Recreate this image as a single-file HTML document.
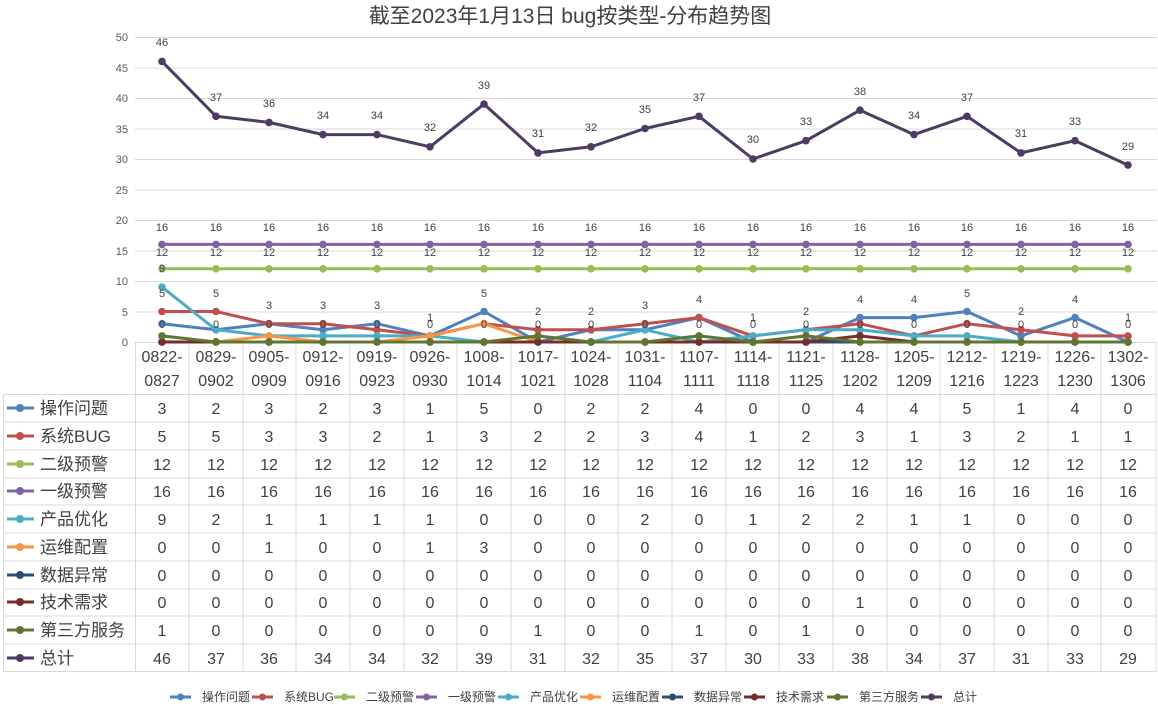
<!DOCTYPE html>
<html><head><meta charset="utf-8"><style>
body{margin:0;background:#fff}
svg{display:block;font-family:"Liberation Sans","Noto Sans CJK SC",sans-serif}
.ax{font-size:11px;fill:#595959;text-anchor:end}
.dl{font-size:11px;fill:#404040;text-anchor:middle}
.tc{font-size:16px;fill:#404040;text-anchor:middle}
.lb{font-size:17px;fill:#404040}
.lg{font-size:12px;fill:#404040}
</style></head><body>
<svg width="1158" height="710" viewBox="0 0 1158 710">
<defs>
<marker id="m1" markerUnits="userSpaceOnUse" markerWidth="10" markerHeight="10" refX="5" refY="5"><circle cx="5" cy="5" r="3.8" fill="#4f81bd"/></marker>
<marker id="m2" markerUnits="userSpaceOnUse" markerWidth="10" markerHeight="10" refX="5" refY="5"><circle cx="5" cy="5" r="3.8" fill="#c0504d"/></marker>
<marker id="m3" markerUnits="userSpaceOnUse" markerWidth="10" markerHeight="10" refX="5" refY="5"><circle cx="5" cy="5" r="3.8" fill="#9bbb59"/></marker>
<marker id="m4" markerUnits="userSpaceOnUse" markerWidth="10" markerHeight="10" refX="5" refY="5"><circle cx="5" cy="5" r="3.8" fill="#8064a2"/></marker>
<marker id="m5" markerUnits="userSpaceOnUse" markerWidth="10" markerHeight="10" refX="5" refY="5"><circle cx="5" cy="5" r="3.8" fill="#4bacc6"/></marker>
<marker id="m6" markerUnits="userSpaceOnUse" markerWidth="10" markerHeight="10" refX="5" refY="5"><circle cx="5" cy="5" r="3.8" fill="#f79646"/></marker>
<marker id="m7" markerUnits="userSpaceOnUse" markerWidth="10" markerHeight="10" refX="5" refY="5"><circle cx="5" cy="5" r="3.8" fill="#2c4d75"/></marker>
<marker id="m8" markerUnits="userSpaceOnUse" markerWidth="10" markerHeight="10" refX="5" refY="5"><circle cx="5" cy="5" r="3.8" fill="#772c2a"/></marker>
<marker id="m9" markerUnits="userSpaceOnUse" markerWidth="10" markerHeight="10" refX="5" refY="5"><circle cx="5" cy="5" r="3.8" fill="#5f7530"/></marker>
<marker id="m10" markerUnits="userSpaceOnUse" markerWidth="10" markerHeight="10" refX="5" refY="5"><circle cx="5" cy="5" r="3.8" fill="#4d3b62"/></marker>
</defs>
<text x="570" y="23" text-anchor="middle" font-size="21" fill="#404040">截至2023年1月13日 bug按类型-分布趋势图</text>
<g stroke="#d9d9d9" stroke-width="1">
<line x1="135" x2="1157" y1="37.5" y2="37.5"/><line x1="135" x2="1157" y1="68" y2="68"/><line x1="135" x2="1157" y1="98.5" y2="98.5"/><line x1="135" x2="1157" y1="129" y2="129"/><line x1="135" x2="1157" y1="159.5" y2="159.5"/><line x1="135" x2="1157" y1="190" y2="190"/><line x1="135" x2="1157" y1="220.5" y2="220.5"/><line x1="135" x2="1157" y1="251" y2="251"/><line x1="135" x2="1157" y1="281.5" y2="281.5"/><line x1="135" x2="1157" y1="312" y2="312"/><line x1="135" x2="1157" y1="342.5" y2="342.5"/>
</g>
<g class="ax"><text x="128" y="41">50</text><text x="128" y="72">45</text><text x="128" y="102">40</text><text x="128" y="133">35</text><text x="128" y="163">30</text><text x="128" y="194">25</text><text x="128" y="224">20</text><text x="128" y="255">15</text><text x="128" y="285">10</text><text x="128" y="316">5</text><text x="128" y="346">0</text></g>
<g stroke="#d9d9d9" stroke-width="1" fill="none">
<line x1="135.5" x2="135.5" y1="342" y2="672"/><line x1="189" x2="189" y1="342" y2="672"/><line x1="243" x2="243" y1="342" y2="672"/><line x1="296" x2="296" y1="342" y2="672"/><line x1="350" x2="350" y1="342" y2="672"/><line x1="404" x2="404" y1="342" y2="672"/><line x1="457" x2="457" y1="342" y2="672"/><line x1="511" x2="511" y1="342" y2="672"/><line x1="565" x2="565" y1="342" y2="672"/><line x1="618" x2="618" y1="342" y2="672"/><line x1="672" x2="672" y1="342" y2="672"/><line x1="726" x2="726" y1="342" y2="672"/><line x1="779" x2="779" y1="342" y2="672"/><line x1="833" x2="833" y1="342" y2="672"/><line x1="887" x2="887" y1="342" y2="672"/><line x1="940" x2="940" y1="342" y2="672"/><line x1="994" x2="994" y1="342" y2="672"/><line x1="1048" x2="1048" y1="342" y2="672"/><line x1="1101" x2="1101" y1="342" y2="672"/><line x1="1156" x2="1156" y1="342" y2="672"/>
<line x1="3.5" x2="3.5" y1="394" y2="672"/>
<line x1="3" x2="1156" y1="394.5" y2="394.5"/><line x1="3" x2="1156" y1="422" y2="422"/><line x1="3" x2="1156" y1="450" y2="450"/><line x1="3" x2="1156" y1="478" y2="478"/><line x1="3" x2="1156" y1="505" y2="505"/><line x1="3" x2="1156" y1="533" y2="533"/><line x1="3" x2="1156" y1="561" y2="561"/><line x1="3" x2="1156" y1="589" y2="589"/><line x1="3" x2="1156" y1="616" y2="616"/><line x1="3" x2="1156" y1="644" y2="644"/><line x1="3" x2="1156" y1="671.5" y2="671.5"/>
</g>
<g fill="none" stroke-width="3" stroke-linejoin="round">
<polyline stroke="#4f81bd" marker-start="url(#m1)" marker-mid="url(#m1)" marker-end="url(#m1)" points="162,323.7 216,329.8 269,323.7 323,329.8 377,323.7 430,335.9 484,311.5 538,342 591,329.8 645,329.8 699,317.6 753,342 806,342 860,317.6 914,317.6 967,311.5 1021,335.9 1075,317.6 1128,342"/>
<polyline stroke="#c0504d" marker-start="url(#m2)" marker-mid="url(#m2)" marker-end="url(#m2)" points="162,311.5 216,311.5 269,323.7 323,323.7 377,329.8 430,335.9 484,323.7 538,329.8 591,329.8 645,323.7 699,317.6 753,335.9 806,329.8 860,323.7 914,335.9 967,323.7 1021,329.8 1075,335.9 1128,335.9"/>
<polyline stroke="#9bbb59" marker-start="url(#m3)" marker-mid="url(#m3)" marker-end="url(#m3)" points="162,268.8 216,268.8 269,268.8 323,268.8 377,268.8 430,268.8 484,268.8 538,268.8 591,268.8 645,268.8 699,268.8 753,268.8 806,268.8 860,268.8 914,268.8 967,268.8 1021,268.8 1075,268.8 1128,268.8"/>
<polyline stroke="#8064a2" marker-start="url(#m4)" marker-mid="url(#m4)" marker-end="url(#m4)" points="162,244.4 216,244.4 269,244.4 323,244.4 377,244.4 430,244.4 484,244.4 538,244.4 591,244.4 645,244.4 699,244.4 753,244.4 806,244.4 860,244.4 914,244.4 967,244.4 1021,244.4 1075,244.4 1128,244.4"/>
<polyline stroke="#4bacc6" marker-start="url(#m5)" marker-mid="url(#m5)" marker-end="url(#m5)" points="162,287.1 216,329.8 269,335.9 323,335.9 377,335.9 430,335.9 484,342 538,342 591,342 645,329.8 699,342 753,335.9 806,329.8 860,329.8 914,335.9 967,335.9 1021,342 1075,342 1128,342"/>
<polyline stroke="#f79646" marker-start="url(#m6)" marker-mid="url(#m6)" marker-end="url(#m6)" points="162,342 216,342 269,335.9 323,342 377,342 430,335.9 484,323.7 538,342 591,342 645,342 699,342 753,342 806,342 860,342 914,342 967,342 1021,342 1075,342 1128,342"/>
<polyline stroke="#2c4d75" marker-start="url(#m7)" marker-mid="url(#m7)" marker-end="url(#m7)" points="162,342 216,342 269,342 323,342 377,342 430,342 484,342 538,342 591,342 645,342 699,342 753,342 806,342 860,342 914,342 967,342 1021,342 1075,342 1128,342"/>
<polyline stroke="#772c2a" marker-start="url(#m8)" marker-mid="url(#m8)" marker-end="url(#m8)" points="162,342 216,342 269,342 323,342 377,342 430,342 484,342 538,342 591,342 645,342 699,342 753,342 806,342 860,335.9 914,342 967,342 1021,342 1075,342 1128,342"/>
<polyline stroke="#5f7530" marker-start="url(#m9)" marker-mid="url(#m9)" marker-end="url(#m9)" points="162,335.9 216,342 269,342 323,342 377,342 430,342 484,342 538,335.9 591,342 645,342 699,335.9 753,342 806,335.9 860,342 914,342 967,342 1021,342 1075,342 1128,342"/>
<polyline stroke="#4d3b62" marker-start="url(#m10)" marker-mid="url(#m10)" marker-end="url(#m10)" points="162,61.4 216,116.3 269,122.4 323,134.6 377,134.6 430,146.8 484,104.1 538,152.9 591,146.8 645,128.5 699,116.3 753,159 806,140.7 860,110.2 914,134.6 967,116.3 1021,152.9 1075,140.7 1128,165.1"/>
</g>
<g class="dl">
<text x="162" y="46">46</text><text x="216" y="101">37</text><text x="269" y="107">36</text><text x="323" y="119">34</text><text x="377" y="119">34</text><text x="430" y="131">32</text><text x="484" y="89">39</text><text x="538" y="137">31</text><text x="591" y="131">32</text><text x="645" y="113">35</text><text x="699" y="101">37</text><text x="753" y="143">30</text><text x="806" y="125">33</text><text x="860" y="95">38</text><text x="914" y="119">34</text><text x="967" y="101">37</text><text x="1021" y="137">31</text><text x="1075" y="125">33</text><text x="1128" y="150">29</text>
<g><text x="162" y="231">16</text><text x="216" y="231">16</text><text x="269" y="231">16</text><text x="323" y="231">16</text><text x="377" y="231">16</text><text x="430" y="231">16</text><text x="484" y="231">16</text><text x="538" y="231">16</text><text x="591" y="231">16</text><text x="645" y="231">16</text><text x="699" y="231">16</text><text x="753" y="231">16</text><text x="806" y="231">16</text><text x="860" y="231">16</text><text x="914" y="231">16</text><text x="967" y="231">16</text><text x="1021" y="231">16</text><text x="1075" y="231">16</text><text x="1128" y="231">16</text></g>
<g><text x="162" y="256">12</text><text x="216" y="256">12</text><text x="269" y="256">12</text><text x="323" y="256">12</text><text x="377" y="256">12</text><text x="430" y="256">12</text><text x="484" y="256">12</text><text x="538" y="256">12</text><text x="591" y="256">12</text><text x="645" y="256">12</text><text x="699" y="256">12</text><text x="753" y="256">12</text><text x="806" y="256">12</text><text x="860" y="256">12</text><text x="914" y="256">12</text><text x="967" y="256">12</text><text x="1021" y="256">12</text><text x="1075" y="256">12</text><text x="1128" y="256">12</text></g>
<text x="162" y="272">9</text>
<g><text x="162" y="297">5</text><text x="216" y="297">5</text><text x="269" y="309">3</text><text x="323" y="309">3</text><text x="377" y="309">3</text><text x="430" y="321">1</text><text x="484" y="297">5</text><text x="538" y="315">2</text><text x="591" y="315">2</text><text x="645" y="309">3</text><text x="699" y="303">4</text><text x="753" y="321">1</text><text x="806" y="315">2</text><text x="860" y="303">4</text><text x="914" y="303">4</text><text x="967" y="297">5</text><text x="1021" y="315">2</text><text x="1075" y="303">4</text><text x="1128" y="321">1</text></g>
<g><text x="162" y="328">0</text><text x="216" y="328">0</text><text x="269" y="328">0</text><text x="323" y="328">0</text><text x="377" y="328">0</text><text x="430" y="328">0</text><text x="484" y="328">0</text><text x="538" y="328">0</text><text x="591" y="328">0</text><text x="645" y="328">0</text><text x="699" y="328">0</text><text x="753" y="328">0</text><text x="806" y="328">0</text><text x="860" y="328">0</text><text x="914" y="328">0</text><text x="967" y="328">0</text><text x="1021" y="328">0</text><text x="1075" y="328">0</text><text x="1128" y="328">0</text></g>
</g>
<g class="tc">
<text x="162" y="362">0822-</text><text x="162" y="386">0827</text>
<text x="216" y="362">0829-</text><text x="216" y="386">0902</text>
<text x="269" y="362">0905-</text><text x="269" y="386">0909</text>
<text x="323" y="362">0912-</text><text x="323" y="386">0916</text>
<text x="377" y="362">0919-</text><text x="377" y="386">0923</text>
<text x="430" y="362">0926-</text><text x="430" y="386">0930</text>
<text x="484" y="362">1008-</text><text x="484" y="386">1014</text>
<text x="538" y="362">1017-</text><text x="538" y="386">1021</text>
<text x="591" y="362">1024-</text><text x="591" y="386">1028</text>
<text x="645" y="362">1031-</text><text x="645" y="386">1104</text>
<text x="699" y="362">1107-</text><text x="699" y="386">1111</text>
<text x="753" y="362">1114-</text><text x="753" y="386">1118</text>
<text x="806" y="362">1121-</text><text x="806" y="386">1125</text>
<text x="860" y="362">1128-</text><text x="860" y="386">1202</text>
<text x="914" y="362">1205-</text><text x="914" y="386">1209</text>
<text x="967" y="362">1212-</text><text x="967" y="386">1216</text>
<text x="1021" y="362">1219-</text><text x="1021" y="386">1223</text>
<text x="1075" y="362">1226-</text><text x="1075" y="386">1230</text>
<text x="1128" y="362">1302-</text><text x="1128" y="386">1306</text>
</g>
<g stroke-width="3">
<line x1="7" x2="34" y1="408" y2="408" stroke="#4f81bd"/><circle cx="20" cy="408" r="4" fill="#4f81bd"/>
<line x1="7" x2="34" y1="436" y2="436" stroke="#c0504d"/><circle cx="20" cy="436" r="4" fill="#c0504d"/>
<line x1="7" x2="34" y1="464" y2="464" stroke="#9bbb59"/><circle cx="20" cy="464" r="4" fill="#9bbb59"/>
<line x1="7" x2="34" y1="491" y2="491" stroke="#8064a2"/><circle cx="20" cy="491" r="4" fill="#8064a2"/>
<line x1="7" x2="34" y1="519" y2="519" stroke="#4bacc6"/><circle cx="20" cy="519" r="4" fill="#4bacc6"/>
<line x1="7" x2="34" y1="547" y2="547" stroke="#f79646"/><circle cx="20" cy="547" r="4" fill="#f79646"/>
<line x1="7" x2="34" y1="575" y2="575" stroke="#2c4d75"/><circle cx="20" cy="575" r="4" fill="#2c4d75"/>
<line x1="7" x2="34" y1="602" y2="602" stroke="#772c2a"/><circle cx="20" cy="602" r="4" fill="#772c2a"/>
<line x1="7" x2="34" y1="630" y2="630" stroke="#5f7530"/><circle cx="20" cy="630" r="4" fill="#5f7530"/>
<line x1="7" x2="34" y1="658" y2="658" stroke="#4d3b62"/><circle cx="20" cy="658" r="4" fill="#4d3b62"/>
</g>
<g class="lb">
<text x="40" y="414">操作问题</text><text x="40" y="442">系统BUG</text><text x="40" y="470">二级预警</text><text x="40" y="497">一级预警</text><text x="40" y="525">产品优化</text><text x="40" y="553">运维配置</text><text x="40" y="581">数据异常</text><text x="40" y="608">技术需求</text><text x="40" y="636">第三方服务</text><text x="40" y="664">总计</text>
</g>
<g class="tc">
<g transform="translate(0,414)"><text x="162">3</text><text x="216">2</text><text x="269">3</text><text x="323">2</text><text x="377">3</text><text x="430">1</text><text x="484">5</text><text x="538">0</text><text x="591">2</text><text x="645">2</text><text x="699">4</text><text x="753">0</text><text x="806">0</text><text x="860">4</text><text x="914">4</text><text x="967">5</text><text x="1021">1</text><text x="1075">4</text><text x="1128">0</text></g>
<g transform="translate(0,442)"><text x="162">5</text><text x="216">5</text><text x="269">3</text><text x="323">3</text><text x="377">2</text><text x="430">1</text><text x="484">3</text><text x="538">2</text><text x="591">2</text><text x="645">3</text><text x="699">4</text><text x="753">1</text><text x="806">2</text><text x="860">3</text><text x="914">1</text><text x="967">3</text><text x="1021">2</text><text x="1075">1</text><text x="1128">1</text></g>
<g transform="translate(0,470)"><text x="162">12</text><text x="216">12</text><text x="269">12</text><text x="323">12</text><text x="377">12</text><text x="430">12</text><text x="484">12</text><text x="538">12</text><text x="591">12</text><text x="645">12</text><text x="699">12</text><text x="753">12</text><text x="806">12</text><text x="860">12</text><text x="914">12</text><text x="967">12</text><text x="1021">12</text><text x="1075">12</text><text x="1128">12</text></g>
<g transform="translate(0,497)"><text x="162">16</text><text x="216">16</text><text x="269">16</text><text x="323">16</text><text x="377">16</text><text x="430">16</text><text x="484">16</text><text x="538">16</text><text x="591">16</text><text x="645">16</text><text x="699">16</text><text x="753">16</text><text x="806">16</text><text x="860">16</text><text x="914">16</text><text x="967">16</text><text x="1021">16</text><text x="1075">16</text><text x="1128">16</text></g>
<g transform="translate(0,525)"><text x="162">9</text><text x="216">2</text><text x="269">1</text><text x="323">1</text><text x="377">1</text><text x="430">1</text><text x="484">0</text><text x="538">0</text><text x="591">0</text><text x="645">2</text><text x="699">0</text><text x="753">1</text><text x="806">2</text><text x="860">2</text><text x="914">1</text><text x="967">1</text><text x="1021">0</text><text x="1075">0</text><text x="1128">0</text></g>
<g transform="translate(0,553)"><text x="162">0</text><text x="216">0</text><text x="269">1</text><text x="323">0</text><text x="377">0</text><text x="430">1</text><text x="484">3</text><text x="538">0</text><text x="591">0</text><text x="645">0</text><text x="699">0</text><text x="753">0</text><text x="806">0</text><text x="860">0</text><text x="914">0</text><text x="967">0</text><text x="1021">0</text><text x="1075">0</text><text x="1128">0</text></g>
<g transform="translate(0,581)"><text x="162">0</text><text x="216">0</text><text x="269">0</text><text x="323">0</text><text x="377">0</text><text x="430">0</text><text x="484">0</text><text x="538">0</text><text x="591">0</text><text x="645">0</text><text x="699">0</text><text x="753">0</text><text x="806">0</text><text x="860">0</text><text x="914">0</text><text x="967">0</text><text x="1021">0</text><text x="1075">0</text><text x="1128">0</text></g>
<g transform="translate(0,608)"><text x="162">0</text><text x="216">0</text><text x="269">0</text><text x="323">0</text><text x="377">0</text><text x="430">0</text><text x="484">0</text><text x="538">0</text><text x="591">0</text><text x="645">0</text><text x="699">0</text><text x="753">0</text><text x="806">0</text><text x="860">1</text><text x="914">0</text><text x="967">0</text><text x="1021">0</text><text x="1075">0</text><text x="1128">0</text></g>
<g transform="translate(0,636)"><text x="162">1</text><text x="216">0</text><text x="269">0</text><text x="323">0</text><text x="377">0</text><text x="430">0</text><text x="484">0</text><text x="538">1</text><text x="591">0</text><text x="645">0</text><text x="699">1</text><text x="753">0</text><text x="806">1</text><text x="860">0</text><text x="914">0</text><text x="967">0</text><text x="1021">0</text><text x="1075">0</text><text x="1128">0</text></g>
<g transform="translate(0,664)"><text x="162">46</text><text x="216">37</text><text x="269">36</text><text x="323">34</text><text x="377">34</text><text x="430">32</text><text x="484">39</text><text x="538">31</text><text x="591">32</text><text x="645">35</text><text x="699">37</text><text x="753">30</text><text x="806">33</text><text x="860">38</text><text x="914">34</text><text x="967">37</text><text x="1021">31</text><text x="1075">33</text><text x="1128">29</text></g>
</g>
<g stroke-width="3">
<line x1="170" x2="191" y1="697" y2="697" stroke="#4f81bd"/><circle cx="180.5" cy="697" r="3.5" fill="#4f81bd"/>
<line x1="252" x2="273" y1="697" y2="697" stroke="#c0504d"/><circle cx="262.5" cy="697" r="3.5" fill="#c0504d"/>
<line x1="334" x2="355" y1="697" y2="697" stroke="#9bbb59"/><circle cx="344.5" cy="697" r="3.5" fill="#9bbb59"/>
<line x1="416" x2="437" y1="697" y2="697" stroke="#8064a2"/><circle cx="426.5" cy="697" r="3.5" fill="#8064a2"/>
<line x1="498" x2="519" y1="697" y2="697" stroke="#4bacc6"/><circle cx="508.5" cy="697" r="3.5" fill="#4bacc6"/>
<line x1="580" x2="601" y1="697" y2="697" stroke="#f79646"/><circle cx="590.5" cy="697" r="3.5" fill="#f79646"/>
<line x1="662" x2="683" y1="697" y2="697" stroke="#2c4d75"/><circle cx="672.5" cy="697" r="3.5" fill="#2c4d75"/>
<line x1="744" x2="765" y1="697" y2="697" stroke="#772c2a"/><circle cx="754.5" cy="697" r="3.5" fill="#772c2a"/>
<line x1="827" x2="848" y1="697" y2="697" stroke="#5f7530"/><circle cx="837.5" cy="697" r="3.5" fill="#5f7530"/>
<line x1="921" x2="942" y1="697" y2="697" stroke="#4d3b62"/><circle cx="931.5" cy="697" r="3.5" fill="#4d3b62"/>
</g>
<g class="lg">
<text x="202" y="701">操作问题</text><text x="284" y="701">系统BUG</text><text x="366" y="701">二级预警</text><text x="448" y="701">一级预警</text><text x="530" y="701">产品优化</text><text x="612" y="701">运维配置</text><text x="694" y="701">数据异常</text><text x="776" y="701">技术需求</text><text x="859" y="701">第三方服务</text><text x="953" y="701">总计</text>
</g>
</svg>
</body></html>
